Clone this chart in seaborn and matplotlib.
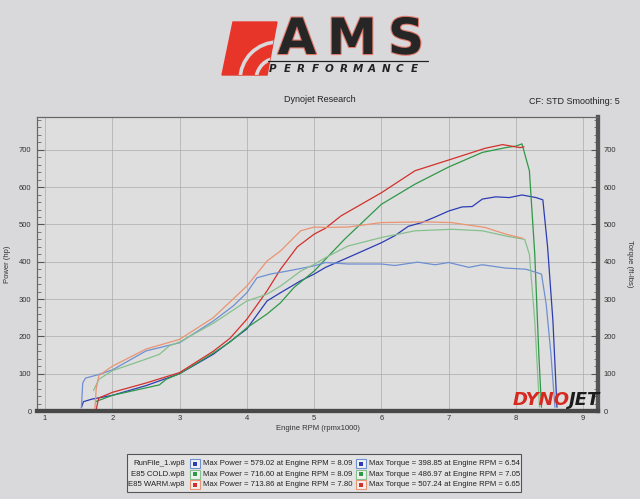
import matplotlib.pyplot as plt
import seaborn as sns
import numpy as np
import matplotlib.patheffects as pe
from matplotlib.patches import Rectangle, Polygon, Arc
from matplotlib.ticker import MultipleLocator

# RunFile_1 (blue)
run1_pwr_rpm = [1.54, 1.57, 1.7, 2.0, 2.5, 3.0, 3.5, 4.0, 4.3, 4.5, 4.8, 5.0, 5.17, 5.5, 6.0, 6.2, 6.4,
                6.6, 6.8, 7.0, 7.2, 7.35, 7.5, 7.7, 7.9, 8.09, 8.3, 8.4, 8.47, 8.55, 8.61]
run1_pwr = [9, 25, 32, 42, 68, 100, 152, 220, 295, 317, 349, 367, 385, 411, 451, 470, 495,
            505, 520, 536, 547, 548, 568, 574, 572, 579, 572, 566, 441, 241, 10]
run1_trq_rpm = [1.54, 1.56, 1.6, 1.8, 2.0, 2.5, 3.0, 3.5, 3.8, 4.0, 4.15, 4.35, 4.6, 5.0, 5.17,
                5.5, 6.0, 6.2, 6.54, 6.8, 7.0, 7.3, 7.5, 7.85, 8.15, 8.38, 8.45, 8.52, 8.58]
run1_trq = [9, 75, 88, 98, 110, 161, 183, 241, 282, 317, 357, 367, 375, 389, 398,
            394, 394, 390, 399, 392, 398, 385, 392, 383, 380, 367, 286, 153, 10]

# E85 COLD (green)
cold_pwr_rpm = [1.75, 2.0, 2.5, 2.7, 2.8, 3.0, 3.5, 3.75, 4.0, 4.3, 4.5, 4.7, 5.0, 5.17, 5.45,
                6.0, 6.5, 7.0, 7.5, 7.85, 8.0, 8.09, 8.2, 8.28, 8.34, 8.38]
cold_pwr = [25, 42, 62, 70, 85, 100, 155, 185, 223, 260, 290, 331, 375, 407, 460,
            554, 608, 654, 693, 706, 710, 716, 644, 420, 153, 10]
cold_trq_rpm = [1.72, 1.8, 2.0, 2.5, 2.7, 2.85, 3.0, 3.5, 4.0, 4.3, 4.5, 4.8, 5.0, 5.17, 5.5,
                6.0, 6.5, 7.05, 7.5, 7.85, 8.13, 8.2, 8.28, 8.35]
cold_trq = [55, 85, 108, 139, 152, 175, 185, 235, 295, 313, 335, 375, 393, 411, 442,
            465, 483, 487, 483, 469, 460, 420, 241, 10]

# E85 WARM (red)
warm_pwr_rpm = [1.76, 1.78, 1.8, 2.0, 2.5, 3.0, 3.5, 3.75, 4.0, 4.3, 4.5, 4.75, 5.0, 5.17, 5.4,
                6.0, 6.5, 7.04, 7.54, 7.8, 8.06, 8.12]
warm_pwr = [2, 22, 35, 50, 75, 103, 160, 195, 246, 322, 380, 440, 474, 490, 523,
            585, 644, 675, 704, 714, 706, 708]
warm_trq_rpm = [1.74, 1.76, 1.8, 2.0, 2.5, 3.0, 3.5, 4.0, 4.3, 4.5, 4.8, 5.0, 5.17, 5.5, 6.0,
                6.65, 7.04, 7.54, 7.85, 8.1]
warm_trq = [2, 60, 95, 120, 166, 192, 250, 335, 402, 429, 483, 493, 492, 493, 505,
            507, 505, 492, 474, 463]

# summary table
run_names = ["RunFile_1.wp8", "E85 COLD.wp8", "E85 WARM.wp8"]
max_power = [579.02, 716.60, 713.86]
max_power_rpm = [8.09, 8.09, 7.80]
max_torque = [398.85, 486.97, 507.24]
max_torque_rpm = [6.54, 7.05, 6.65]

pwr_colors = ["#2c3cb4", "#2f9848", "#d3302c"]
trq_colors = ["#6e8fd2", "#86c08e", "#ea9472"]

sns.set_style("whitegrid", {"axes.facecolor": "#dedede", "grid.color": "#ababab"})
plt.rcParams['font.family'] = ['Liberation Sans', 'DejaVu Sans']

W, H = 640, 499
fig = plt.figure(figsize=(6.4, 4.99), dpi=100, facecolor="#d9d9db")

def px(x0, y0, x1, y1):
    return [x0 / W, 1 - y1 / H, (x1 - x0) / W, (y1 - y0) / H]

ax = fig.add_axes(px(37, 117, 598, 411))
ax2 = ax.twinx()

power_sets = [(run1_pwr_rpm, run1_pwr), (cold_pwr_rpm, cold_pwr), (warm_pwr_rpm, warm_pwr)]
torque_sets = [(run1_trq_rpm, run1_trq), (cold_trq_rpm, cold_trq), (warm_trq_rpm, warm_trq)]
for (x, y), c in zip(torque_sets, trq_colors):
    sns.lineplot(x=x, y=y, ax=ax2, color=c, linewidth=0.9, estimator=None)
for (x, y), c in zip(power_sets, pwr_colors):
    sns.lineplot(x=x, y=y, ax=ax, color=c, linewidth=0.9, estimator=None)

for a in (ax, ax2):
    a.set_xlim(0.88, 9.22)
    a.set_ylim(0, 788)
    a.yaxis.set_major_locator(MultipleLocator(100))
    a.yaxis.set_minor_locator(MultipleLocator(20))
    a.tick_params(axis='y', which='major', length=5, direction='in', color='#555555',
                  labelsize=5.5, labelcolor='#333333', pad=4)
    a.tick_params(axis='y', which='minor', length=3, direction='in', color='#666666')

ax.xaxis.set_major_locator(MultipleLocator(1))
ax.xaxis.set_minor_locator(MultipleLocator(0.2))
ax.tick_params(axis='x', which='major', length=5, direction='in', color='#555555',
               labelsize=5.5, labelcolor='#333333', pad=3)
ax.tick_params(axis='x', which='minor', length=3, direction='in', color='#666666')
ax.grid(True, which='major', linewidth=0.5)
ax2.grid(False)

ax.set_xlabel("Engine RPM (rpmx1000)", fontsize=5.5, color='#333333', labelpad=2)
ax.set_ylabel("Power (hp)", fontsize=5.5, color='#333333', labelpad=6)
ax2.set_ylabel("Torque (ft-lbs)", fontsize=5.5, color='#333333', rotation=-90, labelpad=12)

for a in (ax, ax2):
    for s in ('left', 'top'):
        a.spines[s].set_color('#666666')
        a.spines[s].set_linewidth(0.8)
    a.spines['bottom'].set_color('#484848')
    a.spines['bottom'].set_linewidth(3)
    a.spines['right'].set_color('#555555')
    a.spines['right'].set_linewidth(3)

fig.text(320 / W, 1 - 100 / H, "Dynojet Research", ha='center', va='center', fontsize=6.5, color='#222222')
fig.text(620 / W, 1 - 101 / H, "CF: STD Smoothing: 5", ha='right', va='center', fontsize=6.5, color='#222222')

# overlay in pixel coordinates for logos and summary table
ov = fig.add_axes([0, 0, 1, 1], zorder=5)
ov.set_xlim(0, W)
ov.set_ylim(H, 0)
ov.axis('off')
ov.patch.set_alpha(0)

# AMS logo
red_shape = Polygon([(222, 75), (233, 22), (277, 22), (267, 75)], closed=True, color='#e8352a')
ov.add_patch(red_shape)
for r in (22, 38):
    arc = Arc((278, 80), 2 * r, 2 * r, theta1=180, theta2=270, color='#d9d9db', linewidth=2.6)
    arc.set_clip_path(red_shape)
    ov.add_patch(arc)
for letter, cx in zip("AMS", [297, 352, 406]):
    ov.text(cx, 40, letter, ha='center', va='center', fontsize=36, fontweight='bold',
            family='DejaVu Sans', color='#262626',
            path_effects=[pe.withStroke(linewidth=1.6, foreground='#e07b6c')])
ov.plot([268, 428], [61, 61], color='#222222', linewidth=0.9)
for i, letter in enumerate("PERFORMANCE"):
    ov.text(273 + i * 14.1, 68.5, letter, ha='center', va='center', fontsize=7.5,
            fontweight='bold', style='italic', family='DejaVu Sans', color='#222222')

# Dynojet logo
ov.text(513, 400, "DYNO", ha='left', va='center', fontsize=13, fontweight='heavy', style='italic',
        family='DejaVu Sans', color='#d62a1f')
ov.text(569, 400, "JET", ha='left', va='center', fontsize=13, fontweight='heavy', style='italic',
        family='DejaVu Sans', color='#1c1c1c')

# summary table
ov.add_patch(Rectangle((127, 454), 394, 38, facecolor='#e3e3e3', edgecolor='#555555', linewidth=0.8))
row_y = [463.5, 474, 484.5]
for i in range(3):
    y = row_y[i]
    ov.text(185, y, run_names[i], ha='right', va='center', fontsize=5.6, color='#222222')
    for sx in (190, 356):
        ov.add_patch(Rectangle((sx, y - 4.5), 10, 9, facecolor='#f0f0f0', edgecolor=trq_colors[i], linewidth=0.8))
        ov.add_patch(Rectangle((sx + 3, y - 2), 4, 4, facecolor=pwr_colors[i], edgecolor='none'))
    ov.text(203, y, f"Max Power = {max_power[i]:.2f} at Engine RPM = {max_power_rpm[i]:.2f}",
            ha='left', va='center', fontsize=5.6, color='#222222')
    ov.text(369, y, f"Max Torque = {max_torque[i]:.2f} at Engine RPM = {max_torque_rpm[i]:.2f}",
            ha='left', va='center', fontsize=5.6, color='#222222')

fig.savefig("out.png", dpi=100, facecolor=fig.get_facecolor())
